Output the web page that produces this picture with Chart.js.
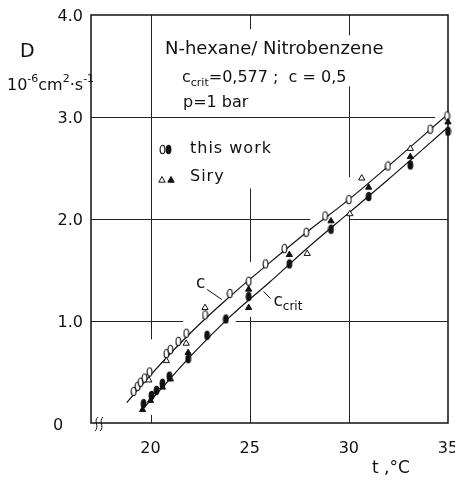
<!DOCTYPE html>
<html>
<head>
<meta charset="utf-8">
<script src="https://cdn.jsdelivr.net/npm/chart.js@4"></script>
<style>
  html, body { margin: 0; padding: 0; background: #fff; }
</style>
</head>
<body>
<canvas id="chart" width="455" height="480"></canvas>
<script>
// ======================
// DATA
// ======================
const xTicks = [20, 25, 30, 35];
const yTicks = [0, 1, 2, 3, 4];
const yTickLabels = ["0", "1.0", "2.0", "3.0", "4.0"];

// this work, c = 0.5 (open ovals)
const workC_t = [19.15, 19.35, 19.5, 19.7, 19.95, 20.8, 21.0, 21.4, 21.8, 22.75, 24.0, 24.95, 25.8, 26.75, 27.85, 28.8, 30.0, 31.97, 34.1, 34.95];
const workC_D = [0.31, 0.36, 0.40, 0.44, 0.50, 0.68, 0.72, 0.80, 0.88, 1.06, 1.27, 1.39, 1.56, 1.71, 1.87, 2.03, 2.19, 2.52, 2.88, 3.01];

// Siry, c = 0.5 (open triangles)
const siryC_t = [19.92, 20.8, 21.8, 22.75, 27.9, 30.05, 30.65, 33.1];
const siryC_D = [0.42, 0.61, 0.78, 1.13, 1.66, 2.05, 2.40, 2.69];

// this work, c crit (filled ovals)
const workCrit_t = [19.65, 20.05, 20.3, 20.6, 20.95, 21.9, 22.85, 23.8, 24.95, 27.0, 29.1, 31.0, 33.1, 35.0];
const workCrit_D = [0.19, 0.27, 0.32, 0.39, 0.46, 0.63, 0.86, 1.02, 1.24, 1.56, 1.90, 2.22, 2.53, 2.86];

// Siry, c crit (filled triangles)
const siryCrit_t = [19.6, 20.0, 20.6, 21.0, 21.9, 24.95, 24.95, 27.0, 29.1, 31.0, 33.1, 35.0];
const siryCrit_D = [0.13, 0.22, 0.35, 0.43, 0.69, 1.13, 1.31, 1.65, 1.98, 2.31, 2.61, 2.95];

// drawn curves
const lineC_t = [18.8, 20, 22, 24, 26, 28, 30, 32, 35];
const lineC_D = [0.20, 0.47, 0.88, 1.24, 1.57, 1.89, 2.19, 2.52, 3.03];
const lineCrit_t = [19.55, 20, 22, 24, 26, 28, 30, 32, 35];
const lineCrit_D = [0.13, 0.22, 0.65, 1.04, 1.38, 1.73, 2.06, 2.39, 2.90];

// grid lines with the gaps of the original drawing (data units)
const vGrid = { 20: [[0, 0.08], [0.82, 4]], 25: [[0, 1.04], [1.58, 2.3], [3.86, 4]], 30: [[0, 2.07], [2.41, 3.3], [3.8, 4]] };
const hGrid = { 1: [[17, 21.65], [24.3, 35]], 2: [[17, 28.05], [30.05, 35]], 3: [[17, 34.35]] };

const pts = (xs, ys) => xs.map((x, i) => ({ x: x, y: ys[i] }));

// ======================
// MARKERS
// ======================
function oval(filled) {
  const c = document.createElement("canvas");
  c.width = 7; c.height = 11;
  const g = c.getContext("2d");
  g.beginPath();
  g.ellipse(3.5, 5.5, 2.4, 4.2, 0, 0, Math.PI * 2);
  g.fillStyle = filled ? "#111" : "#fff";
  g.fill();
  g.lineWidth = 1.1;
  g.strokeStyle = "#111";
  g.stroke();
  return c;
}
const openOval = oval(false);
const filledOval = oval(true);

const FONT = '"DejaVu Sans"';
const INK = "#111";

function rich(ctx, x, y, parts) {
  let cx = x;
  parts.forEach(p => {
    ctx.font = p.size + "px " + FONT;
    ctx.fillText(p.t, cx, y + (p.dy || 0));
    cx += ctx.measureText(p.t).width;
  });
}

// ======================
// PLUGIN: frame, grid, texts
// ======================
const decor = {
  id: "decor",
  beforeDatasetsDraw(chart) {
    const { ctx, chartArea: a, scales: { x, y } } = chart;
    ctx.save();
    ctx.strokeStyle = "#222";
    ctx.lineWidth = 1;
    Object.keys(vGrid).forEach(v => {
      const px = Math.round(x.getPixelForValue(+v)) + 0.5;
      vGrid[v].forEach(s => {
        ctx.beginPath();
        ctx.moveTo(px, y.getPixelForValue(s[0]));
        ctx.lineTo(px, y.getPixelForValue(s[1]));
        ctx.stroke();
      });
    });
    Object.keys(hGrid).forEach(v => {
      const py = Math.round(y.getPixelForValue(+v)) + 0.5;
      hGrid[v].forEach(s => {
        ctx.beginPath();
        ctx.moveTo(x.getPixelForValue(s[0]), py);
        ctx.lineTo(x.getPixelForValue(s[1]), py);
        ctx.stroke();
      });
    });
    ctx.strokeStyle = INK;
    ctx.lineWidth = 1.5;
    ctx.strokeRect(a.left, a.top, a.right - a.left, a.bottom - a.top);

    // axis break marks
    ctx.lineWidth = 1;
    [a.left + 5, a.left + 10].forEach(bx => {
      ctx.beginPath();
      ctx.moveTo(bx - 1, a.bottom + 8);
      ctx.bezierCurveTo(bx + 4, a.bottom + 4, bx - 3, a.bottom - 2, bx + 2, a.bottom - 6);
      ctx.stroke();
    });
    ctx.restore();
  },
  afterDraw(chart) {
    const { ctx, scales: { x, y } } = chart;
    ctx.save();
    ctx.fillStyle = INK;
    ctx.strokeStyle = INK;

    // tick labels
    ctx.font = "16px " + FONT;
    ctx.textBaseline = "middle";
    yTicks.forEach((v, i) => {
      const py = y.getPixelForValue(v);
      if (v === 0) {
        ctx.textAlign = "center";
        ctx.fillText(yTickLabels[i], 58, py + 3);
      } else {
        ctx.textAlign = "right";
        ctx.fillText(yTickLabels[i], 83, py + 2);
      }
    });
    ctx.textAlign = "center";
    xTicks.forEach(v => ctx.fillText(String(v), x.getPixelForValue(v), 449));

    // axis titles
    ctx.textAlign = "left";
    ctx.font = "17px " + FONT;
    ctx.fillText("t ,°C", 372, 469);
    ctx.textBaseline = "alphabetic";
    ctx.font = "19px " + FONT;
    ctx.fillText("D", 20, 57);
    rich(ctx, 7, 90, [
      { t: "10", size: 16 }, { t: "-6", size: 11, dy: -8 },
      { t: "cm", size: 16 }, { t: "2", size: 11, dy: -8 },
      { t: "·s", size: 16 }, { t: "-1", size: 11, dy: -8 }
    ]);

    // header block
    ctx.font = "18px " + FONT;
    ctx.fillText("N-hexane/ Nitrobenzene", 165, 54);
    rich(ctx, 182, 82, [
      { t: "c", size: 16 }, { t: "crit", size: 11, dy: 4 },
      { t: "=0,577 ;  c = 0,5", size: 16 }
    ]);
    ctx.font = "16px " + FONT;
    ctx.fillText("p=1 bar", 183, 107);

    // legend
    ctx.textBaseline = "middle";
    ctx.letterSpacing = "1px";
    ctx.fillText("this work", 190, 149);
    ctx.fillText("Siry", 190, 177);
    ctx.letterSpacing = "0px";
    ctx.drawImage(openOval, 159, 144);
    ctx.drawImage(filledOval, 165, 144);
    const tri = (cx, cy, fill) => {
      ctx.beginPath();
      ctx.moveTo(cx, cy - 3.5);
      ctx.lineTo(cx + 3.2, cy + 2.2);
      ctx.lineTo(cx - 3.2, cy + 2.2);
      ctx.closePath();
      ctx.fillStyle = fill ? INK : "#fff";
      ctx.fill();
      ctx.lineWidth = 1;
      ctx.stroke();
    };
    tri(162, 180, false);
    tri(171, 180, true);
    ctx.fillStyle = INK;

    // curve labels with leader lines
    ctx.lineWidth = 1;
    const lead = (t1, d1, t2, d2) => {
      ctx.beginPath();
      ctx.moveTo(x.getPixelForValue(t1), y.getPixelForValue(d1));
      ctx.lineTo(x.getPixelForValue(t2), y.getPixelForValue(d2));
      ctx.stroke();
    };
    lead(22.85, 1.31, 23.6, 1.21);
    lead(25.7, 1.29, 26.05, 1.22);
    ctx.font = "17px " + FONT;
    ctx.textAlign = "left";
    ctx.fillText("c", x.getPixelForValue(22.3), y.getPixelForValue(1.37));
    ctx.textBaseline = "alphabetic";
    rich(ctx, x.getPixelForValue(26.2), y.getPixelForValue(1.20) + 5, [
      { t: "c", size: 17 }, { t: "crit", size: 12, dy: 4 }
    ]);
    ctx.restore();
  }
};

// ======================
// CHART
// ======================
const lineStyle = { type: "line", showLine: true, pointRadius: 0, borderColor: INK, borderWidth: 1.2,
  cubicInterpolationMode: "monotone", fill: false, order: 5 };

new Chart(document.getElementById("chart"), {
  type: "scatter",
  data: {
    datasets: [
      Object.assign({ label: "c", data: pts(lineC_t, lineC_D) }, lineStyle),
      Object.assign({ label: "c crit", data: pts(lineCrit_t, lineCrit_D) }, lineStyle),
      { label: "this work c", data: pts(workC_t, workC_D), pointStyle: openOval, clip: false, order: 2 },
      { label: "Siry c", data: pts(siryC_t, siryC_D), pointStyle: "triangle", pointRadius: 3.6,
        backgroundColor: "#fff", borderColor: INK, borderWidth: 1, clip: false, order: 1 },
      { label: "this work c crit", data: pts(workCrit_t, workCrit_D), pointStyle: filledOval, clip: false, order: 2 },
      { label: "Siry c crit", data: pts(siryCrit_t, siryCrit_D), pointStyle: "triangle", pointRadius: 3.6,
        backgroundColor: INK, borderColor: INK, borderWidth: 1, clip: false, order: 1 }
    ]
  },
  options: {
    responsive: false,
    animation: false,
    events: [],
    layout: { padding: { left: 91, right: 7, top: 15, bottom: 57 } },
    plugins: { legend: { display: false }, tooltip: { enabled: false } },
    scales: {
      x: {
        type: "linear", min: 17, max: 35,
        afterBuildTicks: axis => { axis.ticks = xTicks.map(v => ({ value: v })); },
        ticks: { display: false },
        grid: { display: false, drawTicks: false, tickLength: 0 },
        border: { display: false }
      },
      y: {
        type: "linear", min: 0, max: 4,
        afterBuildTicks: axis => { axis.ticks = yTicks.map(v => ({ value: v })); },
        ticks: { display: false },
        grid: { display: false, drawTicks: false, tickLength: 0 },
        border: { display: false }
      }
    }
  },
  plugins: [decor]
});
</script>
</body>
</html>
